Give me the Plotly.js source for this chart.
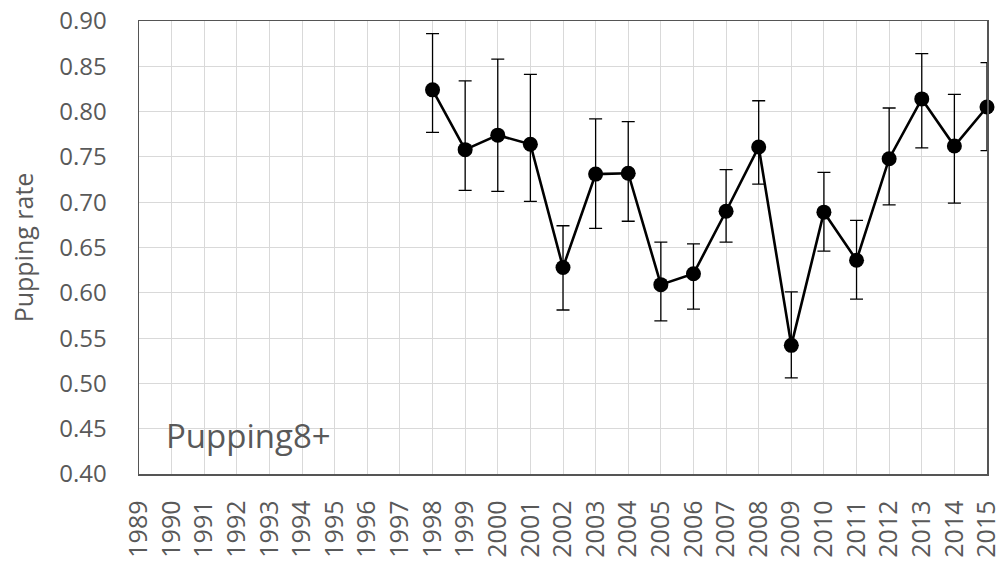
<!DOCTYPE html>
<html>
<head>
<meta charset="utf-8">
<script src="https://cdn.plot.ly/plotly-3.0.1.min.js"></script>
<style>
  html, body { margin: 0; padding: 0; background: #fff; }
  #chart { width: 1002px; height: 563px; }
</style>
</head>
<body>
<div id="chart"></div>
<script>
// Data
const years = [1998, 1999, 2000, 2001, 2002, 2003, 2004, 2005, 2006, 2007, 2008, 2009, 2010, 2011, 2012, 2013, 2014, 2015];
const pupRate = [0.824, 0.758, 0.774, 0.764, 0.628, 0.731, 0.732, 0.609, 0.621, 0.690, 0.761, 0.542, 0.689, 0.636, 0.748, 0.814, 0.762, 0.805];
const upperCI = [0.886, 0.834, 0.858, 0.841, 0.674, 0.792, 0.789, 0.656, 0.654, 0.736, 0.812, 0.601, 0.733, 0.680, 0.804, 0.864, 0.819, 0.854];
const lowerCI = [0.777, 0.713, 0.712, 0.701, 0.581, 0.671, 0.679, 0.569, 0.582, 0.656, 0.720, 0.506, 0.646, 0.593, 0.697, 0.760, 0.699, 0.757];
const yearTicks = [1989,1990,1991,1992,1993,1994,1995,1996,1997,1998,1999,2000,2001,2002,2003,2004,2005,2006,2007,2008,2009,2010,2011,2012,2013,2014,2015];
const yTicks = [0.40, 0.45, 0.50, 0.55, 0.60, 0.65, 0.70, 0.75, 0.80, 0.85, 0.90];
const panelLabel = "Pupping8+";
const yTitle = "Pupping rate";

const errPlus = upperCI.map((u, i) => u - pupRate[i]);
const errMinus = lowerCI.map((l, i) => pupRate[i] - l);

const textColor = "#595959";
const fontFam = "Open Sans, Noto Sans, DejaVu Sans, sans-serif";

const trace = {
  x: years,
  y: pupRate,
  type: "scatter",
  mode: "lines+markers",
  line: { color: "#000000", width: 2.6 },
  marker: { color: "#000000", size: 15 },
  error_y: {
    type: "data",
    symmetric: false,
    array: errPlus,
    arrayminus: errMinus,
    color: "#000000",
    thickness: 1.3,
    width: 6.5
  },
  cliponaxis: false,
  hoverinfo: "x+y"
};

const layout = {
  width: 1002,
  height: 563,
  margin: { l: 139, r: 15, t: 21, b: 89 },
  paper_bgcolor: "#ffffff",
  plot_bgcolor: "#ffffff",
  showlegend: false,
  font: { family: fontFam, color: textColor },
  xaxis: {
    range: [1989, 2015],
    tickvals: yearTicks,
    ticktext: yearTicks.map(String),
    tickangle: -90,
    tickfont: { size: 25, color: textColor, family: fontFam },
    ticklabeloverflow: "allow",
    showgrid: true,
    gridcolor: "#d9d9d9",
    gridwidth: 1,
    zeroline: false,
    showline: true,
    mirror: true,
    linecolor: "#555555",
    linewidth: 1.5,
    ticks: "",
    ticklabelstandoff: 15
  },
  yaxis: {
    range: [0.40, 0.90],
    tickvals: yTicks,
    ticktext: yTicks.map(v => v.toFixed(2)),
    tickfont: { size: 24, color: textColor, family: fontFam },
    showgrid: true,
    gridcolor: "#d9d9d9",
    gridwidth: 1,
    zeroline: false,
    showline: true,
    mirror: true,
    linecolor: "#555555",
    linewidth: 1.5,
    ticks: "",
    ticklabelstandoff: 26,
    title: { text: yTitle, font: { size: 25, color: textColor, family: fontFam }, standoff: 18 }
  },
  annotations: [{
    x: 1989.78,
    y: 0.443,
    xref: "x",
    yref: "y",
    text: panelLabel,
    showarrow: false,
    xanchor: "left",
    yanchor: "middle",
    font: { size: 33, color: textColor, family: fontFam }
  }]
};

Plotly.newPlot("chart", [trace], layout, { displayModeBar: false, staticPlot: true });
</script>
</body>
</html>
